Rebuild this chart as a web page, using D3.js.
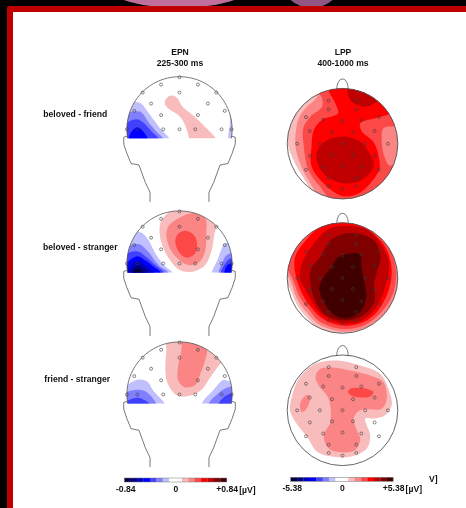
<!DOCTYPE html>
<html>
<head>
<meta charset="utf-8">
<script src="https://cdn.jsdelivr.net/npm/d3@7"></script>
<style>
html, body { margin: 0; padding: 0; background: #000; }
svg { display: block; filter: blur(0.4px); }
text { font-family: "Liberation Sans", Arial, sans-serif; font-weight: bold; fill: #111; }
</style>
</head>
<body>
<script>
// all shapes are in percent of head radius, x to the right and y up
var rowLabels = ['beloved - friend', 'beloved - stranger', 'friend - stranger'];
var epnTitle = ['EPN', '225-300 ms'];
var lppTitle = ['LPP', '400-1000 ms'];
var epnRange = 0.84;
var lppRange = 5.38;
var unitLabel = '[µV]';

// level -7..7 -> colour
var levels = [-7, -6, -5, -4, -3, -2, -1, 0, 1, 2, 3, 4, 5, 6, 7];
var levelColors = ['#000040', '#000080', '#0000c0', '#0000ff', '#4040ff', '#8080ff', '#c0c0ff', '#ffffff',
                   '#f8bcbc', '#fb8484', '#fd4848', '#ff0000', '#c00000', '#800000', '#400000'];
var barCells = [-7, -6, -5, -4, -3, -2, -1, 0, 0, 1, 2, 3, 4, 5, 6, 7];

// electrodes seen on the cut-off heads and on the full heads
var epnElectrodes = [[0,99],[-35,85],[35,85],[0,70],[-70,70],[70,70],[-54,49],[54,49],[-86,35],[86,35],
  [-35,27],[35,27],[-100,0],[-80,0],[-31,0],[0,0],[30,0],[80,0],[99,0]];
var lppElectrodes = [[-25,78],[25,78],[-25,62],[25,62],[-66,48],[-35,43],[0,41],[34,43],[66,48],
  [-59,23],[-19,20],[19,20],[58,23],[-82,0],[-41,0],[0,0],[41,0],[82,0],[-59,-22],[-19,-20],[19,-20],[58,-22],
  [-35,-42],[0,-40],[34,-42],[-66,-47],[66,-47],[-25,-62],[25,-62],[-25,-77],[0,-82],[25,-77]];

var neckOutline = [[-99,-13],[-106,-15],[-106,-28],[-100,-46],[-92,-65],[-77,-68],[-65,-101],[-56,-120],[-56,-138]];
var noseOutline = [[-10.5,98],[-9,108],[-5,115],[0,117],[5,115],[9,108],[10.5,98]];

// contours, painted in this order
var epnFriend = [
  [-1, [[-113,56],[-85,53],[-72,48],[-56,27],[-37,2],[-18,-19],[-12,-39],[-113,-39]]],
  [-2, [[-107,27],[-85,34],[-72,32],[-60,15],[-44,-4],[-30,-19],[-25,-39],[-113,-39]]],
  [-3, [[-104,8],[-82,19],[-69,13],[-53,-4],[-39,-19],[-37,-39],[-107,-39]]],
  [-4, [[-97,-19],[-91,-4],[-80,4],[-69,-4],[-60,-19],[-60,-33],[-97,-33]]],
  [-1, [[94,-20],[96,10],[98,35],[110,35],[110,-20]]],
  [1, [[-27,56],[-18,64],[-6,61],[6,43],[25,27],[42,11],[70,-19],[73,-33],[16,-33],[18,-19],[13,2],[1,24],[-18,37],[-27,46]]]
];
var epnBelovedStranger = [
  [-1, [[-106,57],[-75,60],[-62,49],[-44,16],[-30,-3],[-13,-18],[-11,-32],[-106,-32]]],
  [-2, [[-103,28],[-78,37],[-62,25],[-40,-3],[-21,-18],[-21,-32],[-103,-32]]],
  [-3, [[-103,16],[-80,23],[-65,14],[-46,-3],[-29,-18],[-30,-32],[-103,-32]]],
  [-4, [[-100,0],[-80,14],[-65,6],[-49,-6],[-35,-18],[-37,-32],[-103,-32]]],
  [-5, [[-97,-9],[-80,5],[-65,-3],[-48,-18],[-49,-32],[-100,-32]]],
  [-6, [[-94,-18],[-80,-3],[-67,-9],[-59,-18],[-59,-28],[-94,-28]]],
  [-7, [[-89,-18],[-79,-9],[-70,-18],[-79,-25]]],
  [-1, [[61,-18],[72,6],[84,35],[93,41],[109,41],[109,-32],[61,-32]]],
  [-2, [[74,-18],[82,3],[90,16],[109,19],[109,-32],[74,-32]]],
  [-3, [[78,-18],[87,0],[96,9],[109,9],[109,-32],[78,-32]]],
  [-4, [[85,-18],[91,-3],[99,0],[109,0],[109,-32],[85,-32]]],
  [1, [[-38,66],[-34,82],[-15,101],[33,111],[70,82],[66,54],[61,25],[49,-3],[27,-15],[1,-13],[-18,6],[-34,38]]],
  [2, [[-25,54],[-21,71],[-5,84],[27,96],[49,85],[51,57],[49,25],[39,4],[17,-3],[-2,8],[-18,28]]],
  [3, [[-8,44],[-2,57],[14,62],[30,51],[33,28],[27,16],[14,11],[1,19],[-6,32]]]
];
var epnFriendStranger = [
  [-1, [[-106,9],[-81,28],[-62,25],[-49,6],[-28,-18],[-27,-35],[-106,-35]]],
  [-2, [[-106,0],[-81,9],[-65,6],[-44,-18],[-44,-35],[-106,-35]]],
  [-3, [[-103,-16],[-82,-6],[-70,-9],[-57,-18],[-57,-35],[-103,-35]]],
  [-1, [[42,-18],[65,9],[84,28],[96,25],[109,32],[109,-35],[42,-35]]],
  [-2, [[55,-18],[71,0],[90,13],[109,13],[109,-35],[55,-35]]],
  [-3, [[74,-18],[87,-3],[96,1],[109,1],[109,-35],[74,-35]]],
  [1, [[-23,108],[33,114],[90,76],[74,54],[58,32],[42,9],[27,0],[4,-4],[-11,3],[-24,25],[-27,51],[-25,82]]],
  [2, [[3,108],[4,89],[-3,51],[-3,28],[9,14],[30,18],[39,38],[49,66],[52,89],[33,111]]]
];
var lppFriend = [
  [1, [[-98,-5],[-89,-29],[-74,-56],[-50,-89],[0,-113],[109,-77],[121,19],[61,121],[-71,121],[-113,55]]],
  [2, [[-43,105],[-46,85],[-67,64],[-79,46],[-84,25],[-85,-5],[-77,-35],[-62,-65],[-32,-101],[109,-101],[121,1],[100,75],[40,121]]],
  [3, [[-43,97],[-37,82],[-37,67],[-58,49],[-71,28],[-70,-5],[-62,-47],[-41,-77],[-11,-107],[121,-77],[105,-30],[86,-40],[76,-24],[71,3],[74,28],[95,32],[109,37],[115,79],[49,127],[-23,121]]],
  [4, [[-25,103],[-13,73],[-8,55],[-37,43],[-52,25],[-56,-5],[-56,-41],[-32,-74],[1,-95],[31,-89],[58,-62],[67,-45],[65,-21],[56,3],[35,22],[32,37],[62,47],[86,56],[73,91],[37,115]]],
  [5, [[-47,-17],[-32,4],[1,13],[32,4],[47,-14],[57,-38],[52,-50],[31,-68],[-2,-71],[-32,-56],[-44,-38]]],
  [5, [[8,100],[17,76],[44,67],[62,76],[74,85],[49,115],[13,115]]]
];
var lppBelovedStranger = [
  [1, [[-95,-19],[-83,-47],[-65,-71],[-47,-89],[0,-119],[121,-71],[121,79],[0,125],[-113,79],[-107,1]]],
  [2, [[-94,-5],[-82,-38],[-65,-62],[-44,-83],[0,-97],[43,-89],[76,-65],[96,-29],[109,19],[85,79],[0,109],[-71,85],[-113,31]]],
  [3, [[-89,-5],[-77,-35],[-59,-59],[-41,-79],[0,-92],[40,-85],[70,-62],[91,-29],[96,19],[73,73],[0,106],[-59,85],[-101,31]]],
  [4, [[-83,-2],[-71,-32],[-54,-56],[-35,-74],[0,-86],[37,-80],[64,-59],[85,-17],[88,25],[70,67],[19,100],[-32,97],[-62,73],[-86,37]]],
  [5, [[-77,-2],[-68,-20],[-53,-47],[-35,-68],[0,-82],[37,-76],[61,-53],[76,-20],[84,25],[70,61],[43,88],[1,94],[-26,88],[-53,61],[-74,25]]],
  [6, [[-59,-2],[-53,-32],[-41,-56],[-23,-71],[7,-77],[37,-68],[58,-41],[57,-11],[62,10],[69,37],[58,67],[28,80],[1,80],[-23,67],[-41,37],[-56,19]]],
  [7, [[-42,-20],[-35,-41],[-17,-65],[7,-73],[31,-62],[43,-35],[39,-5],[34,22],[32,43],[10,44],[-8,37],[-23,16],[-38,-5]]]
];
var lppFriendStranger = [
  [1, [[-95,0],[-91,27],[-79,57],[-49,84],[-10,90],[32,81],[68,66],[83,39],[89,9],[77,-9],[56,-15],[41,-15],[50,-45],[44,-69],[14,-84],[-16,-84],[-46,-75],[-64,-48],[-85,-21]]],
  [2, [[-49,60],[-40,75],[-13,77],[14,72],[50,63],[74,51],[80,21],[71,3],[32,0],[20,-15],[26,-36],[32,-51],[23,-72],[0,-76],[-25,-69],[-34,-45],[-22,-21],[-25,21],[-43,45]]],
  [2, [[-77,6],[-73,21],[-61,28],[-59,18],[-67,0],[-74,-3]]],
  [3, [[10,33],[14,39],[38,40],[56,33],[50,25],[17,26]]]
];

var svg = d3.select('body').append('svg').attr('width', 466).attr('height', 508);

var color = d3.scaleOrdinal().domain(levels).range(levelColors);

// picture behind the slide
svg.append('rect').attr('width', 466).attr('height', 508).attr('fill', '#000');
svg.append('ellipse').attr('cx', 179).attr('cy', -20).attr('rx', 79).attr('ry', 28).attr('fill', '#c0709a');
svg.append('ellipse').attr('cx', 311.5).attr('cy', -20).attr('rx', 30).attr('ry', 28).attr('fill', '#915683');
svg.append('rect').attr('x', 7).attr('y', 6).attr('width', 470).attr('height', 520).attr('rx', 2).attr('fill', '#c00000');
svg.append('rect').attr('x', 13).attr('y', 12).attr('width', 460).attr('height', 510).attr('fill', '#fff');

var defs = svg.append('defs');
var cutY = -17;
var cutAngle = Math.asin(-cutY / 100);
var domePoints = d3.range(0, 61).map(function(i) {
  var a = Math.PI + cutAngle - i / 60 * (Math.PI + 2 * cutAngle);
  return [100 * Math.cos(a), 100 * Math.sin(a)];
});

function drawContours(g, contours, x, y, clipId) {
  var line = d3.line().x(function(d) { return x(d[0]); }).y(function(d) { return y(d[1]); })
    .curve(d3.curveCatmullRomClosed.alpha(0.5));
  g.append('g').attr('clip-path', 'url(#' + clipId + ')')
    .selectAll('path').data(contours).enter().append('path')
    .attr('d', function(d) { return line(d[1]); })
    .attr('fill', function(d) { return color(d[0]); });
}

function drawElectrodes(g, points, x, y) {
  g.append('g').selectAll('circle').data(points).enter().append('circle')
    .attr('cx', function(d) { return x(d[0]); })
    .attr('cy', function(d) { return y(d[1]); })
    .attr('r', 1.5)
    .attr('fill', 'none')
    .attr('stroke', '#3a3a3a')
    .attr('stroke-width', 0.6);
}

function epnHead(contours, cx, cy, id) {
  var r = 52.6;
  var x = d3.scaleLinear().domain([-100, 100]).range([cx - r, cx + r]);
  var y = d3.scaleLinear().domain([-100, 100]).range([cy + r, cy - r]);
  var line = d3.line().x(function(d) { return x(d[0]); }).y(function(d) { return y(d[1]); });
  var g = svg.append('g');
  defs.append('clipPath').attr('id', id).append('path').attr('d', line(domePoints) + 'Z');
  drawContours(g, contours, x, y, id);
  g.append('path').attr('d', line(domePoints))
    .attr('fill', 'none').attr('stroke', '#555').attr('stroke-width', 0.8);
  [1, -1].forEach(function(side) {
    var pts = neckOutline.map(function(d) { return [d[0] * side, d[1]]; });
    g.append('path').attr('d', line.curve(d3.curveLinear)(pts))
      .attr('fill', 'none').attr('stroke', '#555').attr('stroke-width', 0.8);
  });
  drawElectrodes(g, epnElectrodes, x, y);
}

function lppHead(contours, cx, cy, id) {
  var r = 55.3;
  var x = d3.scaleLinear().domain([-100, 100]).range([cx - r, cx + r]);
  var y = d3.scaleLinear().domain([-100, 100]).range([cy + r, cy - r]);
  var line = d3.line().x(function(d) { return x(d[0]); }).y(function(d) { return y(d[1]); })
    .curve(d3.curveCatmullRom);
  var g = svg.append('g');
  defs.append('clipPath').attr('id', id).append('circle').attr('cx', cx).attr('cy', cy).attr('r', r);
  drawContours(g, contours, x, y, id);
  g.append('circle').attr('cx', cx).attr('cy', cy).attr('r', r)
    .attr('fill', 'none').attr('stroke', '#555').attr('stroke-width', 0.9);
  g.append('path').attr('d', line(noseOutline))
    .attr('fill', 'none').attr('stroke', '#555').attr('stroke-width', 0.8);
  drawElectrodes(g, lppElectrodes, x, y);
}

epnHead(epnFriend, 179.5, 129.3, 'e1');
epnHead(epnBelovedStranger, 179.5, 263.5, 'e2');
epnHead(epnFriendStranger, 179.5, 394.5, 'e3');
lppHead(lppFriend, 342.5, 143.7, 'l1');
lppHead(lppBelovedStranger, 342.5, 278, 'l2');
lppHead(lppFriendStranger, 342.5, 410.3, 'l3');

// titles and row names
function title(lines, cx) {
  svg.append('g').selectAll('text').data(lines).enter().append('text')
    .attr('x', cx)
    .attr('y', function(d, i) { return 55 + i * 10.6; })
    .attr('text-anchor', 'middle')
    .attr('font-size', 8.6)
    .text(function(d) { return d; });
}
title(epnTitle, 180);
title(lppTitle, 343);

var labelY = [117, 250, 381.5];
var labelX = [43.3, 43, 44.3];
svg.append('g').selectAll('text').data(rowLabels).enter().append('text')
  .attr('x', function(d, i) { return labelX[i]; })
  .attr('y', function(d, i) { return labelY[i]; })
  .attr('font-size', 8.6)
  .text(function(d) { return d; });

// colour bars
function colorBar(left, top, range) {
  var w = 102.4, h = 4;
  var band = d3.scaleBand().domain(d3.range(barCells.length)).range([left, left + w]);
  var g = svg.append('g');
  g.selectAll('rect').data(barCells).enter().append('rect')
    .attr('x', function(d, i) { return band(i); })
    .attr('y', top)
    .attr('width', band.bandwidth() + 0.2)
    .attr('height', h)
    .attr('fill', function(d) { return color(d); });
  g.append('rect').attr('x', left).attr('y', top).attr('width', w).attr('height', h)
    .attr('fill', 'none').attr('stroke', '#777').attr('stroke-width', 0.5);

  var scale = d3.scaleLinear().domain([-range, range]).range([left, left + w]);
  var axis = d3.axisBottom(scale).tickValues([-range, 0, range]).tickSize(0).tickPadding(3.5)
    .tickFormat(function(d) { return d > 0 ? '+' + d : '' + d; });
  var a = svg.append('g').attr('transform', 'translate(0,' + (top + h) + ')').call(axis);
  a.select('.domain').remove();
  a.selectAll('text').attr('font-size', 8.6).attr('fill', '#111')
    .attr('dx', function(d) { return d < 0 ? 1 : 0; })
    .style('font-family', '"Liberation Sans", Arial, sans-serif').style('font-weight', 'bold');
  svg.append('text').attr('x', left + w + 12.5).attr('y', top + h + 10.9).attr('font-size', 8.6).text(unitLabel);
}
colorBar(124.3, 478, epnRange);
colorBar(290.7, 477.3, lppRange);
svg.append('text').attr('x', 429).attr('y', 482).attr('font-size', 8.6).text('V]');
</script>
</body>
</html>
